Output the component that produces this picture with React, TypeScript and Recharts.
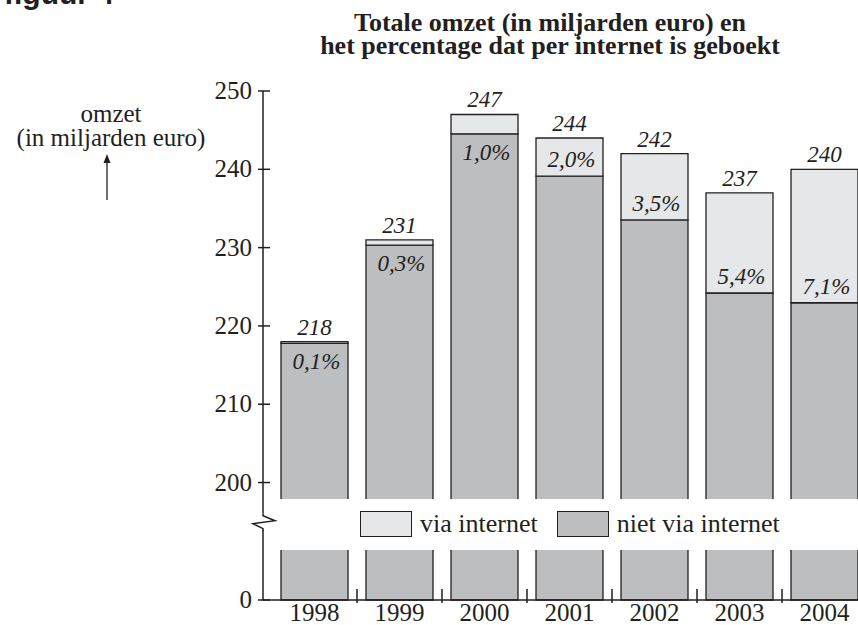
import { BarChart, Bar, XAxis, YAxis, ReferenceArea, ReferenceLine, LabelList, Legend } from "recharts";

const YEARS = ["1998", "1999", "2000", "2001", "2002", "2003", "2004"];
const TOTAL_OMZET = [218, 231, 247, 244, 242, 237, 240];
const INTERNET_PCT = [0.1, 0.3, 1.0, 2.0, 3.5, 5.4, 7.1];
const Y_TICKS = [0, 200, 210, 220, 230, 240, 250];

const SERIF = '"Liberation Serif", "Times New Roman", serif';
const SANS = '"Liberation Sans", Arial, sans-serif';
const INK = "#231f20";
const DARK_FILL = "#bcbec0";
const LIGHT_FILL = "#e6e7e8";

// the axis is broken between 0 and 200: values above the break are drawn CUT lower
const CUT = 185;
const GAP_LOW = 6.4;
const GAP_HIGH = 12.9;
const BREAK_MARK = 10;

const shown = (v: number) => (v === 0 ? 0 : v - CUT);
const real = (v: number) => (v === 0 ? 0 : Math.round(v + CUT));

const data = YEARS.map((year, i) => {
  const via = (TOTAL_OMZET[i] * INTERNET_PCT[i]) / 100;
  return {
    year,
    total: TOTAL_OMZET[i],
    pct: INTERNET_PCT[i].toFixed(1).replace(".", ",") + "%",
    niet: shown(TOTAL_OMZET[i] - via),
    via,
  };
});

function box(props: any) {
  const vb = props.viewBox ?? props;
  return { x: Number(vb.x), y: Number(vb.y), width: Number(vb.width), height: Number(vb.height) };
}

function TotalLabel(props: any) {
  const { x, y, width } = box(props);
  return (
    <text x={x + width / 2} y={y - 7} textAnchor="middle" fontFamily={SERIF} fontStyle="italic" fontSize={23} fill={INK}>
      {props.value}
    </text>
  );
}

function PctLabel(props: any) {
  const { x, y, width, height } = box(props);
  const base = y + height;
  // thin internet part: label goes inside the dark part, otherwise just above it
  const ty = height > 30 ? base - 9 : base + 26;
  return (
    <text x={x + width / 2 + 2} y={ty} textAnchor="middle" fontFamily={SERIF} fontStyle="italic" fontSize={23} fill={INK}>
      {props.value}
    </text>
  );
}

function YTick({ x, y, payload }: any) {
  return (
    <g>
      <line x1={x + 6} x2={x + 18} y1={y} y2={y} stroke={INK} strokeWidth={1.5} />
      <text x={x} y={y + 8} textAnchor="end" fontFamily={SERIF} fontSize={25} fill={INK}>
        {real(payload.value)}
      </text>
    </g>
  );
}

function XTick({ x, y, payload, index }: any) {
  const half = payload.offset || 42.5;
  return (
    <g>
      {index < YEARS.length - 1 && (
        <line x1={x + half} x2={x + half} y1={y - 11} y2={y + 3} stroke={INK} strokeWidth={1.5} />
      )}
      <text x={x} y={y + 21} textAnchor="middle" fontFamily={SERIF} fontSize={25} fill={INK}>
        {payload.value}
      </text>
    </g>
  );
}

function AxisBreak(props: any) {
  const x = Math.min(props.x1, props.x2);
  const y = props.y1;
  return (
    <g>
      <line x1={x} x2={x} y1={y - 8} y2={y + 8} stroke="#fff" strokeWidth={4} />
      <polyline
        points={`${x},${y - 8} ${x},${y - 6} ${x + 12},${y - 1} ${x - 10},${y + 2} ${x},${y + 7} ${x},${y + 9}`}
        fill="none"
        stroke={INK}
        strokeWidth={1.5}
      />
    </g>
  );
}

function BreakLegend({ payload }: any) {
  const items = [...(payload ?? [])].reverse();
  return (
    <div style={{ display: "flex", alignItems: "center", fontFamily: SERIF, fontSize: 26, color: INK, whiteSpace: "nowrap" }}>
      {items.map((it: any, i: number) => (
        <div key={it.value} style={{ display: "flex", alignItems: "center", marginLeft: i ? 19 : 0 }}>
          <span style={{ display: "inline-block", width: 50, height: 24, background: it.color, border: `1.5px solid ${INK}` }} />
          <span style={{ marginLeft: 8 }}>{it.value}</span>
        </div>
      ))}
    </div>
  );
}

export default function App() {
  return (
    <div style={{ position: "absolute", left: 0, top: 0, width: 858, height: 625, overflow: "hidden", background: "#fff" }}>
      <div style={{ position: "absolute", left: 4, top: -21, fontFamily: SANS, fontWeight: 700, fontSize: 30, lineHeight: "30px", color: INK }}>
        figuur 4
      </div>
      <div
        style={{
          position: "absolute",
          left: 270,
          top: 11,
          width: 560,
          textAlign: "center",
          fontFamily: SERIF,
          fontWeight: 700,
          fontSize: 26,
          lineHeight: "23px",
          color: INK,
        }}
      >
        Totale omzet (in miljarden euro) en
        <br />
        het percentage dat per internet is geboekt
      </div>
      <div
        style={{
          position: "absolute",
          left: 0,
          top: 102,
          width: 222,
          textAlign: "center",
          fontFamily: SERIF,
          fontSize: 25,
          lineHeight: "24px",
          color: INK,
        }}
      >
        omzet
        <br />
        (in miljarden euro)
      </div>
      <svg style={{ position: "absolute", left: 0, top: 0 }} width={220} height={210}>
        <line x1={107} x2={107} y1={200} y2={161} stroke={INK} strokeWidth={1.3} />
        <polygon points="107,154 103.5,163 110.5,163" fill={INK} />
      </svg>
      <BarChart
        width={867}
        height={625}
        data={data}
        margin={{ top: 91, right: 0, bottom: 0, left: 0 }}
        style={{ position: "absolute", left: 0, top: 0 }}
      >
        <XAxis
          dataKey="year"
          height={25}
          padding={{ left: 9, right: 0 }}
          tickLine={false}
          tickSize={0}
          tickMargin={0}
          tick={<XTick />}
          axisLine={{ stroke: INK, strokeWidth: 1.5 }}
          interval={0}
        />
        <YAxis
          width={263}
          domain={[0, shown(250)]}
          ticks={Y_TICKS.map(shown)}
          tickLine={false}
          tickSize={0}
          tickMargin={11}
          tick={<YTick />}
          axisLine={{ stroke: INK, strokeWidth: 1.5 }}
          interval={0}
        />
        <Bar dataKey="niet" stackId="s" name="niet via internet" fill={DARK_FILL} stroke={INK} strokeWidth={1.3} barSize={67} isAnimationActive={false} />
        <Bar dataKey="via" stackId="s" name="via internet" fill={LIGHT_FILL} stroke={INK} strokeWidth={1.3} barSize={67} isAnimationActive={false}>
          <LabelList dataKey="total" content={TotalLabel} />
          <LabelList dataKey="pct" content={PctLabel} />
        </Bar>
        <ReferenceArea y1={GAP_LOW} y2={GAP_HIGH} fill="#fff" fillOpacity={1} stroke="none" zIndex={350} />
        <ReferenceLine y={BREAK_MARK} stroke="none" shape={AxisBreak} zIndex={600} />
        <Legend
          layout="horizontal"
          verticalAlign="middle"
          align="center"
          content={BreakLegend}
          wrapperStyle={{ left: 360, top: 509, width: "auto", height: "auto" }}
        />
      </BarChart>
    </div>
  );
}
